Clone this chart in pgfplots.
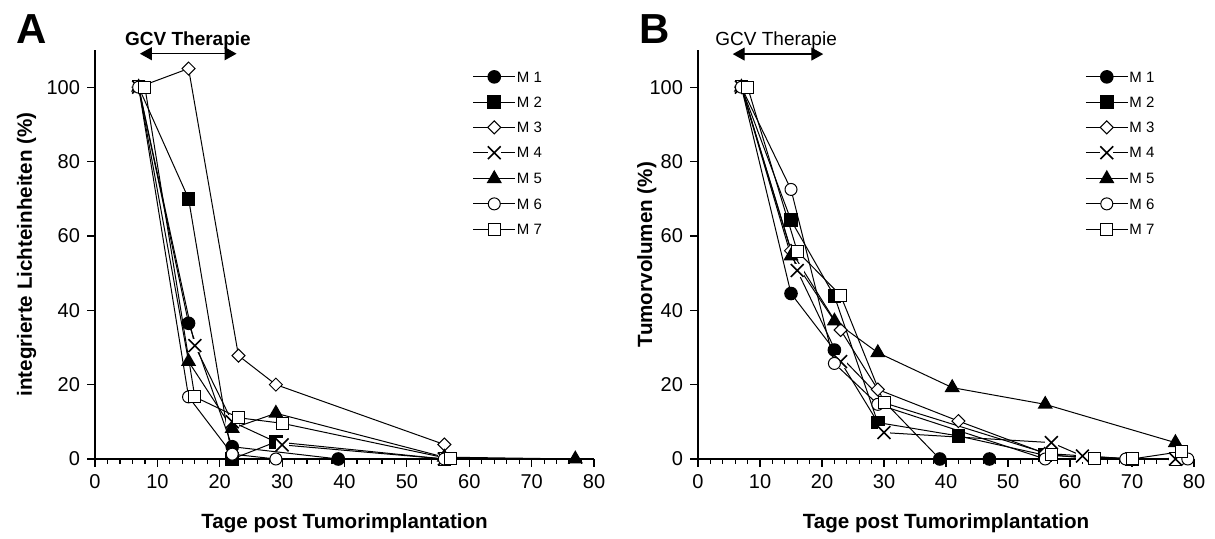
\documentclass[border=0pt]{standalone}
\usepackage{fontspec}
\setmainfont{Liberation Sans}
\usepackage{pgfplots}
\pgfplotsset{compat=1.18}
\usetikzlibrary{arrows.meta}

% X mark with a white box behind it (as Excel draws it)
\pgfdeclareplotmark{wx}{%
  \pgfpathrectangle{\pgfqpoint{-\pgfplotmarksize}{-\pgfplotmarksize}}{\pgfqpoint{2\pgfplotmarksize}{2\pgfplotmarksize}}%
  \pgfsetfillcolor{white}\pgfusepath{fill}%
  \pgfpathmoveto{\pgfqpoint{-\pgfplotmarksize}{-\pgfplotmarksize}}%
  \pgfpathlineto{\pgfqpoint{\pgfplotmarksize}{\pgfplotmarksize}}%
  \pgfpathmoveto{\pgfqpoint{-\pgfplotmarksize}{\pgfplotmarksize}}%
  \pgfpathlineto{\pgfqpoint{\pgfplotmarksize}{-\pgfplotmarksize}}%
  \pgfusepathqstroke}

\pgfplotsset{
  panel/.style={scale only axis, height=204.5pt,
    xmin=0, xmax=80, ymin=0, ymax=110,
    axis x line*=bottom, axis y line*=left,
    axis line style={-, line width=0.6pt},
    tick align=outside, xtick={0,10,...,80}, ytick={0,20,...,100},
    minor x tick num=4, major tick length=4pt, minor tick length=2.5pt,
    tick style={line width=0.6pt, black},
    clip=false,
    /pgf/number format/assume math mode=true,
    ticklabel style={font=\fontsize{10}{12}\selectfont},
    label style={font=\bfseries\fontsize{10.3}{12}\selectfont},
    xlabel style={at={(axis description cs:0.5,-0.157)}, anchor=center},
    legend cell align=left,
    legend image code/.code={\draw[mark repeat=2,mark phase=2,##1] plot coordinates {(0pt,0pt)(10.5pt,0pt)(21pt,0pt)};},
    legend style={anchor=north west, draw=none, fill=none, inner sep=0pt,
      font=\fontsize{7.5}{8}\selectfont, row sep=6.2pt,
      nodes={inner sep=0.6pt, text height=5.2pt, text depth=0pt}},
  },
  ser/.style={black, line width=0.5pt, mark options={solid, line width=0.8pt}},
  m1/.style={ser, mark=*, mark size=3pt},
  m2/.style={ser, mark=square*, mark size=3pt},
  m3/.style={ser, mark=square*, mark size=2.3pt, mark options={rotate=45, fill=white}},
  m4/.style={ser, mark=wx, mark size=3.2pt},
  m5/.style={ser, mark=triangle*, mark size=3.6pt},
  m6/.style={ser, mark=*, mark size=3pt, mark options={fill=white}},
  m7/.style={ser, mark=square*, mark size=3pt, mark options={fill=white}},
}

\begin{document}
\begin{tikzpicture}
\path[use as bounding box] (0,0) rectangle (607.5pt,269.5pt);

% ---------- A ----------
\begin{axis}[panel, at={(47.5pt,40pt)}, anchor=south west, width=249.5pt,
  xlabel={Tage post Tumorimplantation},
  ylabel={integrierte Lichteinheiten (\%)},
  ylabel style={at={(axis description cs:-0.137,0.5)}, anchor=center},
  legend style={at={(axis cs:60.5,104.6)}}]
\addplot[m1] coordinates {(7,100)(15,36.5)(22,3.3)(39,0)};
\addplot[m2] coordinates {(7,100)(15,70)(22,0)(29,4.6)(56,0)};
\addplot[m3] coordinates {(7,100)(15,105)(23,27.8)(29,20)(56,3.9)};
\addplot[m4] coordinates {(7,100)(16,30.5)(22,10)(30,3.8)(56,0)};
\addplot[m5] coordinates {(7,100)(15,26.2)(22,8.2)(29,12.3)(56,0.5)(77,0)};
\addplot[m6] coordinates {(7,100)(15,16.7)(22,1.3)(29,0)(56,0)};
\addplot[m7] coordinates {(8,100)(16,16.7)(23,11.1)(30,9.6)(57,0)};
\legend{M 1,M 2,M 3,M 4,M 5,M 6,M 7}
\draw[{Triangle[length=6pt,width=6.5pt]}-{Triangle[length=6pt,width=6.5pt]}, line width=0.6pt]
  (axis cs:7.2,109) -- (axis cs:22.7,109);
\node[anchor=base, font=\bfseries\fontsize{9.5}{11}\selectfont] at (axis cs:14.9,111.3) {GCV Therapie};
\end{axis}

% ---------- B ----------
\begin{axis}[panel, at={(349pt,40pt)}, anchor=south west, width=248pt,
  xlabel={Tage post Tumorimplantation},
  ylabel={Tumorvolumen (\%)},
  ylabel style={at={(axis description cs:-0.103,0.5)}, anchor=center},
  legend style={at={(axis cs:62.4,104.6)}}]
\addplot[m1] coordinates {(7,100)(15,44.5)(22,29.3)(39,0)(47,0)(77,0)};
\addplot[m2] coordinates {(7,100)(15,64.2)(22,43.8)(29,9.8)(42,6.2)(56,1)(70,0)(77,0)};
\addplot[m3] coordinates {(7,100)(15,56)(23,34.7)(29,18.7)(42,10.2)(56,1.5)(70,0)(78,0)};
\addplot[m4] coordinates {(7,100)(16,50.7)(23,26.2)(30,7.1)(57,4.4)(62,0.8)(70,0)(77,0)};
\addplot[m5] coordinates {(7,100)(15,54.6)(22,37.1)(29,28.6)(41,19.2)(56,14.7)(77,4.4)};
\addplot[m6] coordinates {(7,100)(15,72.5)(22,25.7)(29,14.7)(56,0)(69,0)(79,0)};
\addplot[m7] coordinates {(8,100)(16,55.9)(23,44)(30,15.1)(57,1.1)(64,0)(70,0)(78,2)};
\legend{M 1,M 2,M 3,M 4,M 5,M 6,M 7}
\draw[{Triangle[length=6pt,width=6.5pt]}-{Triangle[length=6pt,width=6.5pt]}, line width=0.6pt]
  (axis cs:5.6,108.9) -- (axis cs:20.2,108.9);
\node[anchor=base, font=\fontsize{9.5}{11}\selectfont] at (axis cs:12.6,111.3) {GCV Therapie};
\end{axis}

\node[font=\bfseries\fontsize{21}{24}\selectfont] at (16pt,255pt) {A};
\node[font=\bfseries\fontsize{21}{24}\selectfont] at (327.5pt,255pt) {B};
\end{tikzpicture}
\end{document}
